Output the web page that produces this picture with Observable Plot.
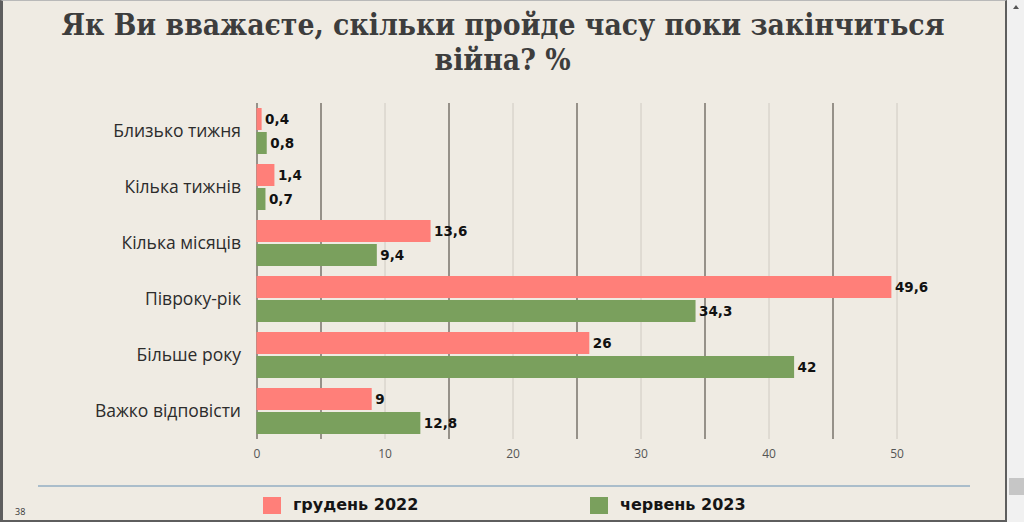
<!DOCTYPE html>
<html>
<head>
<meta charset="utf-8">
<script src="https://cdn.jsdelivr.net/npm/d3@7"></script>
<script src="https://cdn.jsdelivr.net/npm/@observablehq/plot@0.6"></script>
<style>
  html, body { margin: 0; padding: 0; background: #f1f1f1; }
  #page { position: relative; width: 1024px; height: 522px; overflow: hidden; background: #f1f1f1; }
  #frame { position: absolute; left: 0; top: 0; width: 1007px; height: 522px; box-sizing: border-box;
           background: #efebe3; border-left: 3px solid #5e5e5e; border-right: 2px solid #5e5e5e;
           border-bottom: 2px solid #5e5e5e; border-top: 1px solid #b9b9b9; }
  .tline { position: absolute; left: 0; width: 1006px; text-align: center;
           font-family: "DejaVu Serif Condensed", "DejaVu Serif", serif; font-stretch: condensed;
           font-weight: bold; font-size: 30px; line-height: 35px; color: #3d3d3d; }
  .tline span { display: inline-block; white-space: nowrap; transform-origin: center; }
  #chart { position: absolute; left: 0; top: 95px; }
  #rule { position: absolute; left: 38px; top: 485px; width: 932px; height: 2px; background: #aabdcb; }
  .key { position: absolute; top: 497px; width: 18px; height: 17px; }
  .keytext { position: absolute; top: 494px; font-family: "DejaVu Sans", sans-serif; font-weight: bold;
             font-size: 16px; line-height: 22px; color: #151515; white-space: nowrap; }
  #pnum { position: absolute; left: 15px; top: 505px; font-family: "Open Sans", sans-serif; font-size: 9px; color: #333; }
  #thumb { position: absolute; left: 1009px; top: 478px; width: 15px; height: 17px; background: #c6c6c6; }
  #arrow { position: absolute; left: 1013px; top: 5px; width: 0; height: 0;
           border-left: 3.5px solid transparent; border-right: 3.5px solid transparent; border-bottom: 4px solid #555; }
</style>
</head>
<body>
<div id="page">
  <div id="frame"></div>
  <div class="tline" id="l1" style="top:7px"><span id="t1">Як Ви вважаєте, скільки пройде часу поки закінчиться</span></div>
  <div class="tline" id="l2" style="top:42px"><span id="t2">війна? %</span></div>
  <div id="chart"></div>
  <div id="rule"></div>
  <div id="legend"></div>
  <div id="pnum">38</div>
  <div id="thumb"></div>
  <div id="arrow"></div>
</div>
<script>
const categories = ["Близько тижня", "Кілька тижнів", "Кілька місяців", "Півроку-рік", "Більше року", "Важко відповісти"];
const dec2022 = [0.4, 1.4, 13.6, 49.6, 26, 9];
const jun2023 = [0.8, 0.7, 9.4, 34.3, 42, 12.8];
const seriesNames = ["грудень 2022", "червень 2023"];
const seriesColors = ["#ff7f79", "#7aa05d"];
const xTicks = [0, 10, 20, 30, 40, 50];
const gridMajor = [0, 5, 15, 25, 35, 45];
const gridMinor = [10, 20, 30, 40, 50];

const rowsA = categories.map((c, i) => ({category: c, value: dec2022[i]}));
const rowsB = categories.map((c, i) => ({category: c, value: jun2023[i]}));
const fmt = v => String(v).replace(".", ",");

const valueText = {
  x: "value", y: "category", text: d => fmt(d.value), dx: 3, textAnchor: "start",
  fontFamily: "DejaVu Sans", fontWeight: "bold", fontSize: 13.5, fill: "#111"
};

const chart = Plot.plot({
  width: 1006,
  height: 374,
  marginLeft: 256,
  marginRight: 110,
  marginTop: 8,
  marginBottom: 30,
  style: {background: "transparent", fontFamily: "Open Sans", fontSize: "12px", color: "#555"},
  x: {domain: [0, 50], range: [256.5, 896.5], ticks: xTicks, tickSize: 0, tickPadding: 10, label: null, tickFormat: d => String(d)},
  y: {domain: categories, padding: 0, axis: null},
  marks: [
    Plot.ruleX(gridMinor, {stroke: "#cfcac2", strokeWidth: 1}),
    Plot.ruleX(gridMajor, {stroke: "#78736b", strokeWidth: 1.5}),
    Plot.barX(rowsA, {x: "value", y: "category", fill: seriesColors[0], insetTop: 5, insetBottom: 29}),
    Plot.barX(rowsB, {x: "value", y: "category", fill: seriesColors[1], insetTop: 29, insetBottom: 5}),
    Plot.text(rowsA, {...valueText, dy: -12}),
    Plot.text(rowsB, {...valueText, dy: 12}),
    Plot.text(categories, {x: d => 0, y: d => d, text: d => d, dx: -16, textAnchor: "end",
      fontFamily: "Open Sans", fontSize: 17.5, fill: "#2c2c2c"})
  ]
});
document.getElementById("chart").appendChild(chart);

// legend
const legend = document.getElementById("legend");
const keyX = [263, 590];
const textX = [293, 620];
seriesNames.forEach((name, i) => {
  const sw = document.createElement("div");
  sw.className = "key";
  sw.style.left = keyX[i] + "px";
  sw.style.background = seriesColors[i];
  legend.appendChild(sw);
  const t = document.createElement("div");
  t.className = "keytext";
  t.style.left = textX[i] + "px";
  t.textContent = name;
  legend.appendChild(t);
});

// fit title width
const t1 = document.getElementById("t1");
const t2 = document.getElementById("t2");
const w = t1.getBoundingClientRect().width;
const s = 883 / w;
t1.style.transform = `scaleX(${s})`;
t2.style.transform = `scaleX(${s})`;
</script>
</body>
</html>
